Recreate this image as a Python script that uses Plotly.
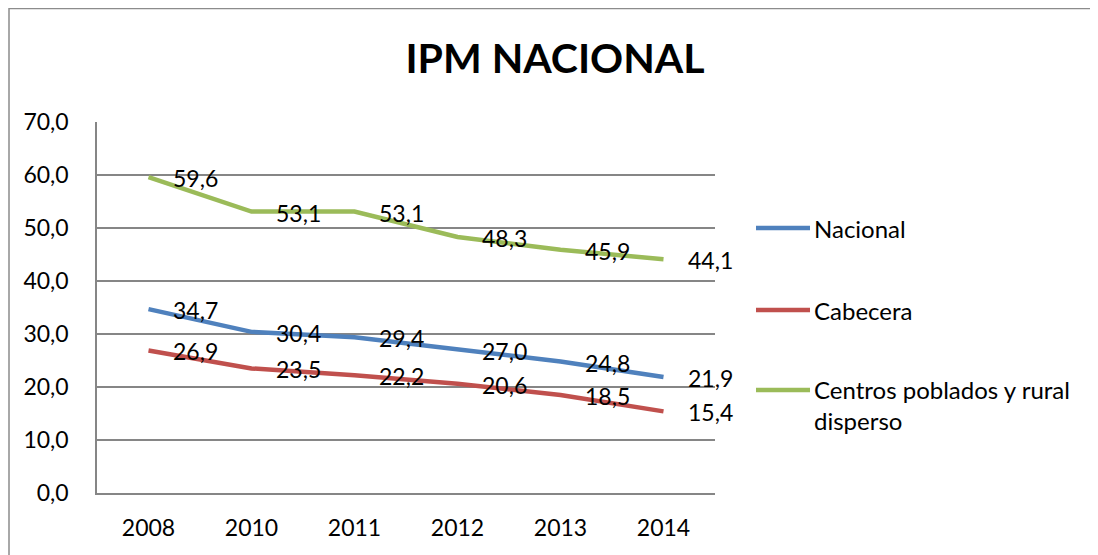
import plotly.graph_objects as go

years = ["2008", "2010", "2011", "2012", "2013", "2014"]
nacional = [34.7, 30.4, 29.4, 27.0, 24.8, 21.9]
cabecera = [26.9, 23.5, 22.2, 20.6, 18.5, 15.4]
rural = [59.6, 53.1, 53.1, 48.3, 45.9, 44.1]
series_names = ["Nacional", "Cabecera", "Centros poblados y rural<br>disperso"]
colors = ["#4F81BD", "#C0504D", "#9BBB59"]

FONT = "Lato"
OFF = 8  # page body margin
W, H = 1098 - OFF, 555 - OFF
L, T = 97 - OFF, 122 - OFF
R = W - (715 - OFF)
B = H - (493 - OFF)
PW, PH = W - L - R, H - T - B

xpos = list(range(len(years)))

fig = go.Figure()
all_series = [nacional, cabecera, rural]
for name, vals, col in zip(series_names, all_series, colors):
    fig.add_trace(go.Scatter(x=xpos, y=vals, mode="lines", name=name,
                             line=dict(color=col, width=4.5), showlegend=False,
                             hoverinfo="skip"))

annotations = []
for vals in all_series:
    for x, v in zip(xpos, vals):
        annotations.append(dict(x=x, y=v, xref="x", yref="y",
                                text=f"{v:.1f}".replace(".", ","),
                                showarrow=False, xanchor="left", yanchor="middle",
                                xshift=22, yshift=-1,
                                font=dict(family=FONT, size=23, color="#000")))


def px_to_paper_x(px):
    return (px - OFF - L) / PW


def px_to_paper_y(py):
    return (H - B - (py - OFF)) / PH


shapes = []
leg_y = [228, 310, 390]
for name, col, yy in zip(series_names, colors, leg_y):
    shapes.append(dict(type="line", xref="paper", yref="paper",
                       x0=px_to_paper_x(756), x1=px_to_paper_x(810),
                       y0=px_to_paper_y(yy), y1=px_to_paper_y(yy),
                       line=dict(color=col, width=4.5)))
    wrapped = "<br>" in name
    annotations.append(dict(x=px_to_paper_x(812), y=px_to_paper_y(yy), xref="paper", yref="paper",
                            text=name, showarrow=False, xanchor="left",
                            yanchor="top" if wrapped else "middle",
                            yshift=17 if wrapped else 0,
                            align="left",
                            font=dict(family=FONT, size=24, color="#000")))

# outer chart border
shapes.append(dict(type="rect", xref="paper", yref="paper",
                   x0=px_to_paper_x(9), x1=px_to_paper_x(1300),
                   y0=px_to_paper_y(800), y1=px_to_paper_y(8.5),
                   line=dict(color="#8C8C8C", width=1.5), fillcolor="rgba(0,0,0,0)"))

fig.update_layout(
    width=W, height=H,
    margin=dict(l=L, r=R, t=T, b=B),
    paper_bgcolor="white", plot_bgcolor="white",
    separators=",.",
    title=dict(text="<b>IPM NACIONAL</b>", x=(555 - OFF) / W, xanchor="center",
               y=1 - (59 - OFF) / H, yanchor="middle", xref="container", yref="container",
               font=dict(family=FONT, size=41, color="#000")),
    xaxis=dict(range=[-0.5, len(years) - 0.5], tickvals=xpos, ticktext=years,
               showgrid=False, showline=True, linecolor="#868686", zeroline=False,
               linewidth=1.5, ticks="", ticklabelstandoff=14,
               tickfont=dict(family=FONT, size=23, color="#000"), fixedrange=True),
    yaxis=dict(range=[0, 70], dtick=10, tickformat=".1f", showgrid=True,
               gridcolor="#868686", gridwidth=1.5, showline=True, linecolor="#868686",
               linewidth=1.5, ticks="", ticklabelstandoff=22, zeroline=False,
               tickfont=dict(family=FONT, size=23, color="#000"), fixedrange=True),
    annotations=annotations, shapes=shapes,
)

fig.write_html("out.html")
